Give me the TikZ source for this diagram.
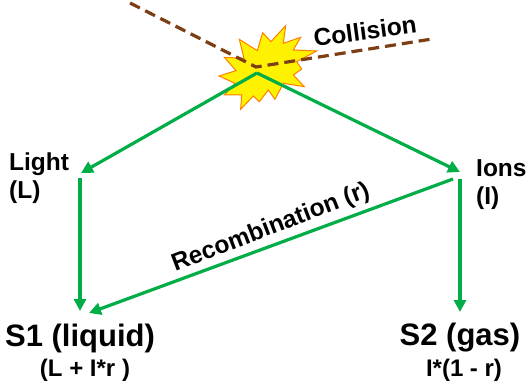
\documentclass[tikz,border=0pt]{standalone}
\usepackage{fontspec}
\setmainfont{Liberation Sans}
\usetikzlibrary{arrows.meta}
\tikzset{
  flow/.style={draw=flowgreen,line width=3.2pt,-{Triangle[length=12pt,width=12pt]}},
  track/.style={draw=trackbrown,line width=3.2pt,dash pattern=on 11pt off 6pt},
  lbl/.style={font=\bfseries\fontsize{24.5}{26}\selectfont,inner sep=0pt,text=black},
  small/.style={font=\bfseries\fontsize{24.5}{26}\selectfont,inner sep=0pt,anchor=west,text=black},
  big/.style={font=\bfseries\fontsize{31}{33}\selectfont,inner sep=0pt,text=black},
  sub/.style={font=\bfseries\fontsize{24}{26}\selectfont,inner sep=0pt,text=black}
}
\definecolor{flowgreen}{RGB}{0,173,70}
\definecolor{trackbrown}{RGB}{125,62,20}
\begin{document}
\begin{tikzpicture}[x=1pt,y=-1pt]
\useasboundingbox (0,0) rectangle (527,390);
\begin{scope}[shift={(120,0)},x=0.3333pt,y=-0.3333pt]
\filldraw[draw=orange,fill=yellow,line width=1pt,line join=miter]
 (497,77)--(490,130)--(542,112)--(520,150)--(590,153)--(530,185)--(545,207)--(520,225)--(553,260)--(490,250)--(465,298)--(445,270)--(418,305)--(400,288)--(362,328)--(365,285)--(313,285)--(345,250)--(297,228)--(348,212)--(313,172)--(372,175)--(358,118)--(412,152)--(428,98)--(453,125)--cycle;
\end{scope}
\coordinate (trackA) at (130,3);
\coordinate (trackB) at (256,67);
\coordinate (trackC) at (432,39);
\coordinate (apex) at (257,73);
\coordinate (lightIn) at (81,173);
\coordinate (lightOut) at (80,178);
\coordinate (ionsIn) at (460,172);
\coordinate (ionsOut) at (460,179);
\coordinate (ionsRec) at (453,179);
\coordinate (s1Top) at (80,311);
\coordinate (s1Rec) at (89,313);
\coordinate (s2Top) at (460,312);
\draw[track] (trackA)--(trackB)--(trackC);
\draw[flow] (apex)--(lightIn);
\draw[flow] (apex)--(ionsIn);
\draw[flow] (lightOut)--(s1Top);
\draw[flow] (ionsOut)--(s2Top);
\draw[flow] (ionsRec)--(s1Rec);
\node[lbl,rotate=7.5] (collision) at (365,31) {Collision};
\node[lbl,rotate=21] (recomb) at (271,228) {Recombination (r)};
\node[small] (light) at (9,164) {Light};
\node[small] (lightsym) at (9,192) {(L)};
\node[small] (ions) at (476,168) {Ions};
\node[small] (ionssym) at (476,198) {(I)};
\node[big] (s1) at (80,338) {S1 (liquid)};
\node[sub] (s1sub) at (85,370) {(L + I*r )};
\node[big] (s2) at (460,338) {S2 (gas)};
\node[sub] (s2sub) at (464,370) {I*(1 - r)};
\end{tikzpicture}
\end{document}
